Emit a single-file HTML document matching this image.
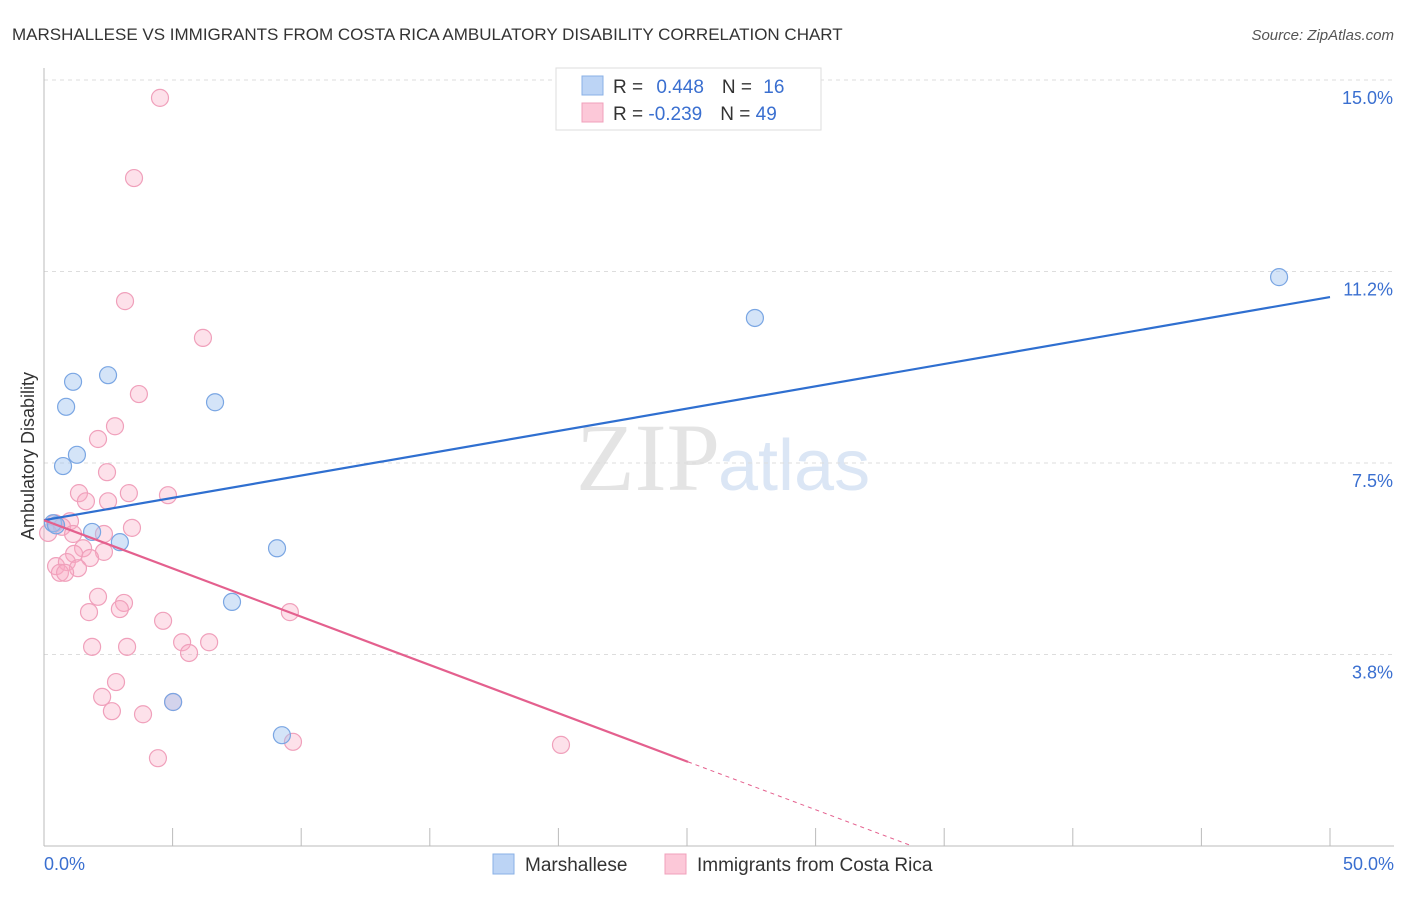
<!DOCTYPE html>
<html><head><meta charset="utf-8"><style>
body{margin:0;background:#fff;font-family:"Liberation Sans",sans-serif}
</style></head><body>
<svg id="chart" width="1406" height="892" xmlns="http://www.w3.org/2000/svg" font-family="Liberation Sans, sans-serif">
<text x="12" y="40" font-size="17" fill="#333">MARSHALLESE VS IMMIGRANTS FROM COSTA RICA AMBULATORY DISABILITY CORRELATION CHART</text>
<text x="1394" y="40" font-size="15" fill="#555" font-style="italic" text-anchor="end">Source: ZipAtlas.com</text>
<text x="720" y="490" font-size="96" fill="#e4e4e4" text-anchor="end" font-family="Liberation Serif, serif">ZIP</text>
<text x="718" y="490" font-size="72" fill="#dbe6f5">atlas</text>
<g id="grid"></g><g id="axes"></g><g id="marks"></g>
<text transform="translate(34,456) rotate(-90)" font-size="18" fill="#333" text-anchor="middle">Ambulatory Disability</text>
<g>
<rect x="556" y="68" width="265" height="62" fill="#fff" stroke="#ddd"/>
<rect x="582" y="76" width="21" height="19" fill="#bcd4f5" stroke="#8ab0e6"/>
<rect x="582" y="103" width="21" height="19" fill="#fcc8d8" stroke="#f0a0bb"/>
<text x="613" y="93" font-size="19" fill="#333">R = <tspan fill="#3a6fd0" dx="8">0.448</tspan><tspan dx="18" fill="#333">N = </tspan><tspan fill="#3a6fd0" dx="6">16</tspan></text>
<text x="613" y="120" font-size="19" fill="#333">R = <tspan fill="#3a6fd0">-0.239</tspan><tspan dx="18" fill="#333">N = </tspan><tspan fill="#3a6fd0">49</tspan></text>
</g>
<g>
<rect x="493" y="854" width="21" height="20" fill="#bcd4f5" stroke="#8ab0e6"/>
<text x="525" y="871" font-size="19" fill="#333">Marshallese</text>
<rect x="665" y="854" width="21" height="20" fill="#fcc8d8" stroke="#f0a0bb"/>
<text x="697" y="871" font-size="19" fill="#333">Immigrants from Costa Rica</text>
</g>
</svg>
<script>
const yTicks=[15,11.25,7.5,3.75];
const yTickLabels=["15.0%","11.2%","7.5%","3.8%"];
const xTickLabels=["0.0%","50.0%"];
const blueX=[0.35,0.74,0.86,1.13,1.28,1.87,2.49,2.95,5.02,6.65,7.31,9.06,9.25,27.64,48.02,0.47];
const blueY=[6.32,7.44,8.60,9.09,7.66,6.15,9.22,5.95,2.82,8.69,4.78,5.83,2.17,10.34,11.14,6.28];
const pinkX=[4.51,3.50,3.15,6.18,3.69,2.76,2.10,2.45,1.36,1.63,3.30,2.49,4.82,3.42,1.01,0.43,0.70,0.16,1.13,2.33,1.52,1.17,2.33,1.79,0.47,0.89,1.32,0.62,0.82,2.10,3.11,1.75,2.95,9.56,4.63,5.37,6.42,1.87,3.23,5.64,2.80,2.26,2.64,3.85,5.02,9.68,20.10,4.43];
const pinkY=[14.65,13.08,10.67,9.95,8.85,8.22,7.97,7.32,6.91,6.75,6.91,6.75,6.87,6.23,6.36,6.32,6.25,6.13,6.11,6.11,5.83,5.72,5.76,5.64,5.48,5.56,5.44,5.35,5.35,4.88,4.76,4.58,4.64,4.58,4.41,3.99,3.99,3.90,3.90,3.78,3.21,2.92,2.64,2.58,2.82,2.04,1.98,1.72];
const blueTrend=[6.38,10.75];
const pinkTrend=[6.38,-0.189];
const NS="http://www.w3.org/2000/svg";
const X=v=>44+v/50*1286, Y=v=>846-v/3.75*191.5;
function mk(t,a,p){const e=document.createElementNS(NS,t);for(const k in a)e.setAttribute(k,a[k]);document.getElementById(p).appendChild(e);return e;}
yTicks.forEach((t,i)=>{
 const l=mk('line',{x1:44,x2:1394,y1:Y(t),y2:Y(t),stroke:'#ddd','stroke-dasharray':'4,4'},'grid');
 
 
 const tx=mk('text',{x:1393,y:Y(t)+24,'font-size':18,fill:'#3a6fd0','text-anchor':'end'},'axes');
 tx.textContent=yTickLabels[i];
 
 
});
let a=mk('line',{x1:44,x2:44,y1:68,y2:846,stroke:'#bbb'},'axes');


a=mk('line',{x1:44,x2:1394,y1:846,y2:846,stroke:'#bbb'},'axes');


for(let i=0;i<=10;i++){const t=mk('line',{x1:X(i*5),x2:X(i*5),y1:828,y2:846,stroke:'#bbb'},'axes');
 
 }
[[0,0,'start',44],[1,50,'end',1394]].forEach(([i,v,an,px])=>{const t=mk('text',{x:px,y:870,'font-size':18,fill:'#3a6fd0','text-anchor':an},'axes');t.textContent=xTickLabels[i];
 
 });
pinkX.forEach((x,i)=>{const c=mk('circle',{cx:X(x),cy:Y(pinkY[i]),r:8.5,fill:'rgba(248,170,195,0.35)',stroke:'#f0a0bb','stroke-width':1.2},'marks');
 
 });
blueX.forEach((x,i)=>{const c=mk('circle',{cx:X(x),cy:Y(blueY[i]),r:8.5,fill:'rgba(160,195,240,0.45)',stroke:'#7aa6e3','stroke-width':1.2},'marks');
 
 });
let l=mk('line',{x1:X(0),y1:Y(blueTrend[0]),x2:X(50),y2:Y(blueTrend[1]),stroke:'#2f6fd0','stroke-width':2.2},'marks');


const pe=25.04, pz=-pinkTrend[0]/pinkTrend[1];
l=mk('line',{x1:X(0),y1:Y(pinkTrend[0]),x2:X(pe),y2:Y(pinkTrend[0]+pinkTrend[1]*pe),stroke:'#e4608e','stroke-width':2.2},'marks');


l=mk('line',{x1:X(pe),y1:Y(pinkTrend[0]+pinkTrend[1]*pe),x2:X(pz),y2:Y(0),stroke:'#e4608e','stroke-width':1,'stroke-dasharray':'4,4'},'marks');


</script>
</body></html>
